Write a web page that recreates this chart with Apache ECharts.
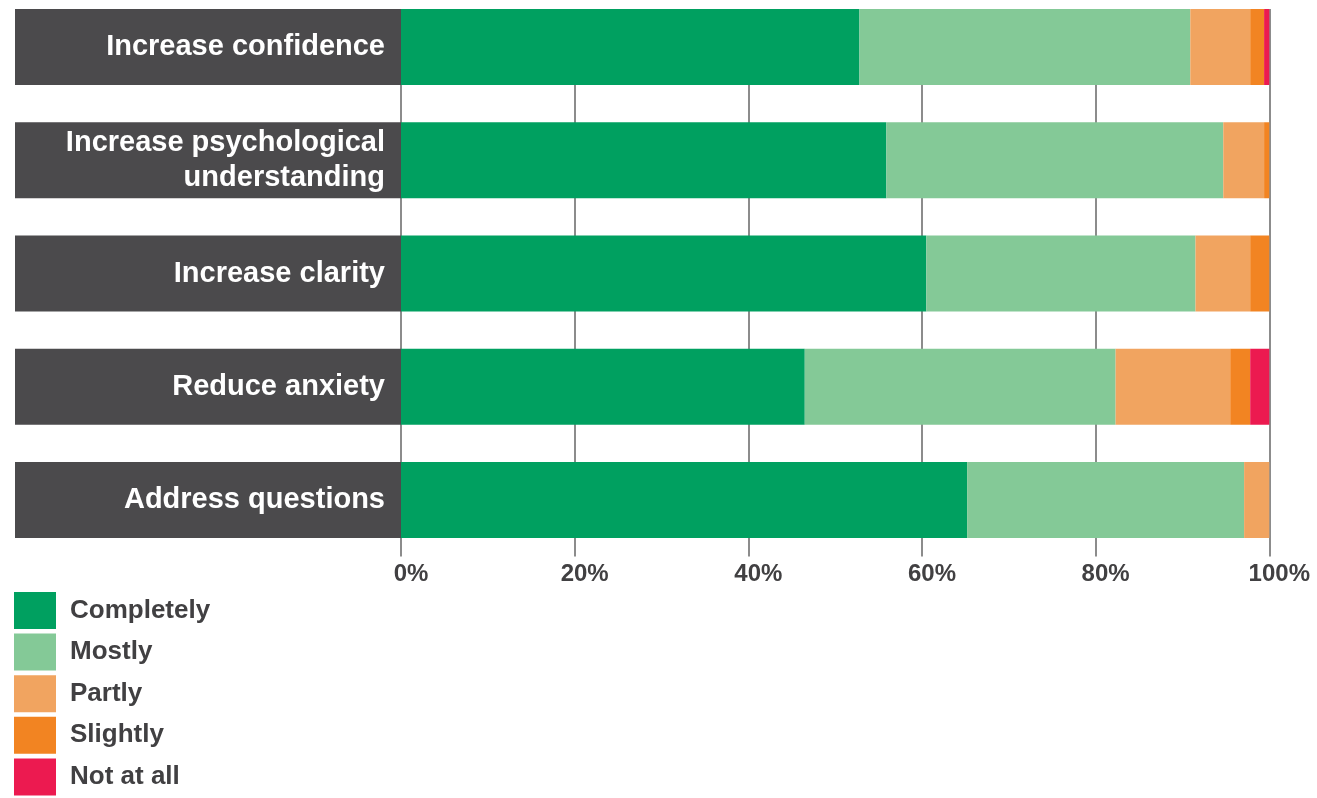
<!DOCTYPE html>
<html>
<head>
<meta charset="utf-8">
<script src="https://cdn.jsdelivr.net/npm/echarts@6/dist/echarts.min.js"></script>
<style>
  html, body { margin: 0; padding: 0; background: #ffffff; overflow: hidden; }
  /* canvas extends 10px past the top and bottom edges of the page */
  #chart { width: 1317px; height: 818px; margin-top: -10px; }
</style>
</head>
<body>
<div id="chart"></div>
<script>
// Survey outcomes, share of responses per statement (%)
const categories = [
  'Increase confidence',
  'Increase psychological\nunderstanding',
  'Increase clarity',
  'Reduce anxiety',
  'Address questions'
];
const seriesNames = ['Completely', 'Mostly', 'Partly', 'Slightly', 'Not at all'];
const completely = [52.8, 55.9, 60.5, 46.5, 65.2];
const mostly     = [38.1, 38.8, 31.0, 35.8, 31.9];
const partly     = [6.9, 4.7, 6.3, 13.2, 2.9];
const slightly   = [1.6, 0.6, 2.2, 2.3, 0];
const notAtAll   = [0.6, 0, 0, 2.2, 0];
const xTicks = [0, 20, 40, 60, 80, 100];

const seriesValues = [completely, mostly, partly, slightly, notAtAll];
const colors = ['#00a060', '#84c997', '#f1a460', '#f28422', '#ec1a50'];

const OFFSET = 10;          // canvas starts this far above the page top
const BAR_H = 76;
const LINE_H = 35;
const LABEL_FONT = "'Liberation Sans', Arial, Helvetica, sans-serif";

// Category labels sit inside dark boxes the height of a bar
const yData = categories.map(function (c) {
  const lines = c.split('\n').length;
  const pv = (BAR_H - lines * LINE_H) / 2;
  return { value: c, textStyle: { padding: [pv + 2.5, 16, pv - 2.5, 0] } };
});

const chart = echarts.init(document.getElementById('chart'), null, { renderer: 'canvas' });

chart.setOption({
  animation: false,
  backgroundColor: '#ffffff',
  color: colors,
  grid: {
    left: 401,
    right: 47.7,
    top: OFFSET - 9.6,
    bottom: 251.4,
    containLabel: false
  },
  xAxis: {
    type: 'value',
    min: xTicks[0],
    max: xTicks[xTicks.length - 1],
    interval: xTicks[1] - xTicks[0],
    axisLine: { show: false },
    axisTick: { show: false },
    splitLine: { show: true, lineStyle: { color: '#666666', width: 1.5 } },
    axisLabel: {
      formatter: '{value}%',
      margin: 6,
      color: '#414042',
      fontSize: 24,
      fontWeight: 'bold',
      fontFamily: LABEL_FONT,
      padding: [0, 0, 0, 20]
    }
  },
  yAxis: {
    type: 'category',
    inverse: true,
    data: yData,
    axisLine: { show: false },
    axisTick: { show: false },
    splitLine: { show: false },
    axisLabel: {
      interval: 0,
      margin: 0,
      color: '#ffffff',
      fontSize: 29,
      fontWeight: 'bold',
      fontFamily: LABEL_FONT,
      lineHeight: LINE_H,
      align: 'right',
      verticalAlign: 'middle',
      backgroundColor: '#4b4a4c',
      width: 370
    }
  },
  legend: {
    orient: 'vertical',
    left: 14,
    top: OFFSET + 592,
    padding: 0,
    itemWidth: 42,
    itemHeight: 37,
    itemGap: 4.6,
    icon: 'rect',
    data: seriesNames,
    textStyle: {
      color: '#414042',
      fontSize: 26,
      fontWeight: 'bold',
      fontFamily: LABEL_FONT,
      padding: [5, 0, 0, 9]
    }
  },
  // keeps the band above the first bar clear of grid lines
  graphic: [{
    type: 'rect',
    left: 390,
    top: OFFSET,
    shape: { width: 900, height: 9 },
    style: { fill: '#ffffff' },
    z: 100
  }],
  series: seriesNames.map(function (name, i) {
    return {
      name: name,
      type: 'bar',
      stack: 'total',
      barWidth: BAR_H,
      itemStyle: { color: colors[i] },
      emphasis: { disabled: true },
      data: seriesValues[i]
    };
  })
});
</script>
</body>
</html>
